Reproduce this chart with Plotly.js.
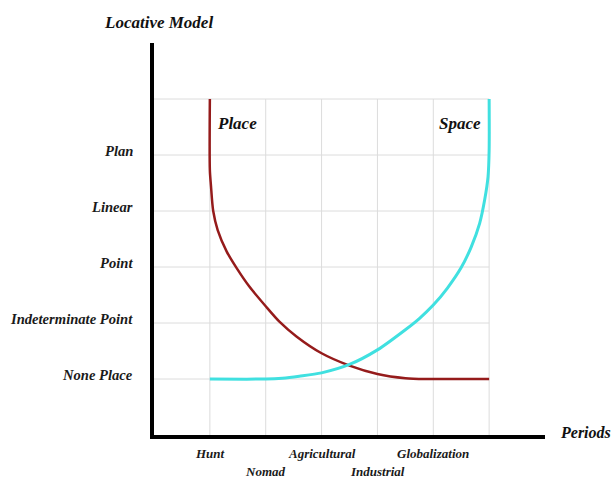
<!DOCTYPE html>
<html>
<head>
<meta charset="utf-8">
<script src="https://cdn.plot.ly/plotly-3.0.1.min.js"></script>
<style>html,body{margin:0;padding:0;background:#fff;}#chart{width:612px;height:479px;}</style>
</head>
<body>
<div id="chart"></div>
<script>
// Categories
const periods = ["Hunt", "Nomad", "Agricultural", "Industrial", "Globalization"];
const periodRow = [0, 1, 0, 1, 0]; // 0 = upper row, 1 = lower row
const levels = ["None Place", "Indeterminate Point", "Point", "Linear", "Plan"];
const gridX = [0, 1, 2, 3, 4, 5];
const gridY = [0, 1, 2, 3, 4, 5];

// Place curve
const placeX = [0, 0, 0.02, 0.06, 0.14, 0.30, 0.48, 0.70, 1.0, 1.25, 1.55, 2.0, 2.5, 3.0, 3.5, 3.88, 5];
const placeY = [5, 3.73, 3.45, 3.0, 2.66, 2.28, 1.98, 1.66, 1.30, 1.02, 0.76, 0.46, 0.24, 0.09, 0.015, 0, 0];

// Space curve
const spaceX = [0, 1.0, 1.3, 1.6, 2.0, 2.5, 3.0, 3.5, 3.75, 4.0, 4.25, 4.5, 4.68, 4.83, 4.92, 4.98, 5, 5];
const spaceY = [0, 0, 0.015, 0.05, 0.11, 0.26, 0.52, 0.88, 1.08, 1.32, 1.62, 1.99, 2.36, 2.78, 3.20, 3.61, 4.09, 5];

const serif = "Liberation Serif, Times New Roman, serif";
const labelFont = {family: serif, size: 13, color: "#1a1a1a", weight: "bold", style: "italic"};
const levelFont = {family: serif, size: 14.6, color: "#1a1a1a", weight: "bold", style: "italic"};

const shapes = [];
gridX.forEach(v => shapes.push({type: "line", xref: "x", yref: "y", x0: v, x1: v, y0: -1, y1: gridY[gridY.length - 1], line: {color: "#dcdcdc", width: 1}, layer: "below"}));
gridY.forEach(v => shapes.push({type: "line", xref: "x", yref: "y", y0: v, y1: v, x0: -1, x1: gridX[gridX.length - 1], line: {color: "#dcdcdc", width: 1}, layer: "below"}));

const annotations = [];
periods.forEach((p, i) => annotations.push({
  text: p, x: i, xref: "x", y: 0, yref: "paper", yanchor: "middle", xanchor: "center",
  yshift: periodRow[i] ? -36 : -18, showarrow: false, font: labelFont
}));
levels.forEach((l, i) => annotations.push({
  text: l, x: 0, xref: "paper", y: i, yref: "y", xanchor: "right", yanchor: "middle",
  xshift: -19, yshift: 4, showarrow: false, font: levelFont
}));
annotations.push({text: "Place", x: 0, xref: "x", y: 5, yref: "y", xanchor: "left", yanchor: "middle", xshift: 5, yshift: -24, showarrow: false, font: {family: serif, size: 17, color: "#111", weight: "bold", style: "italic"}});
annotations.push({text: "Space", x: 5, xref: "x", y: 5, yref: "y", xanchor: "right", yanchor: "middle", xshift: -6, yshift: -24, showarrow: false, font: {family: serif, size: 17, color: "#111", weight: "bold", style: "italic"}});
annotations.push({text: "Periods", x: 1, xref: "paper", y: 0, yref: "paper", xanchor: "left", yanchor: "middle", xshift: 13, yshift: 3, showarrow: false, font: {family: serif, size: 16, color: "#111", weight: "bold", style: "italic"}});

const data = [
  {x: placeX, y: placeY, type: "scatter", mode: "lines", name: "Place", line: {color: "#951b1b", width: 2.5, shape: "spline", smoothing: 0.8}, hoverinfo: "skip"},
  {x: spaceX, y: spaceY, type: "scatter", mode: "lines", name: "Space", line: {color: "#40e0e0", width: 3, shape: "spline", smoothing: 0.8}, hoverinfo: "skip"}
];

const layout = {
  width: 612, height: 479,
  margin: {l: 154, r: 67, t: 43, b: 44},
  paper_bgcolor: "#fff", plot_bgcolor: "#fff",
  showlegend: false,
  title: {text: "Locative Model", x: 105 / 612, xanchor: "left", xref: "container", y: 1 - 22 / 479, yref: "container", yanchor: "middle",
          font: {family: serif, size: 17, color: "#111", weight: "bold", style: "italic"}},
  xaxis: {range: [-1, 6], showgrid: false, zeroline: false, showticklabels: false, ticks: "", showline: true, linecolor: "#000", linewidth: 4, fixedrange: true},
  yaxis: {range: [-1, 6], showgrid: false, zeroline: false, showticklabels: false, ticks: "", showline: true, linecolor: "#000", linewidth: 4, fixedrange: true},
  shapes: shapes,
  annotations: annotations
};

Plotly.newPlot("chart", data, layout, {displayModeBar: false, staticPlot: true});
</script>
</body>
</html>
